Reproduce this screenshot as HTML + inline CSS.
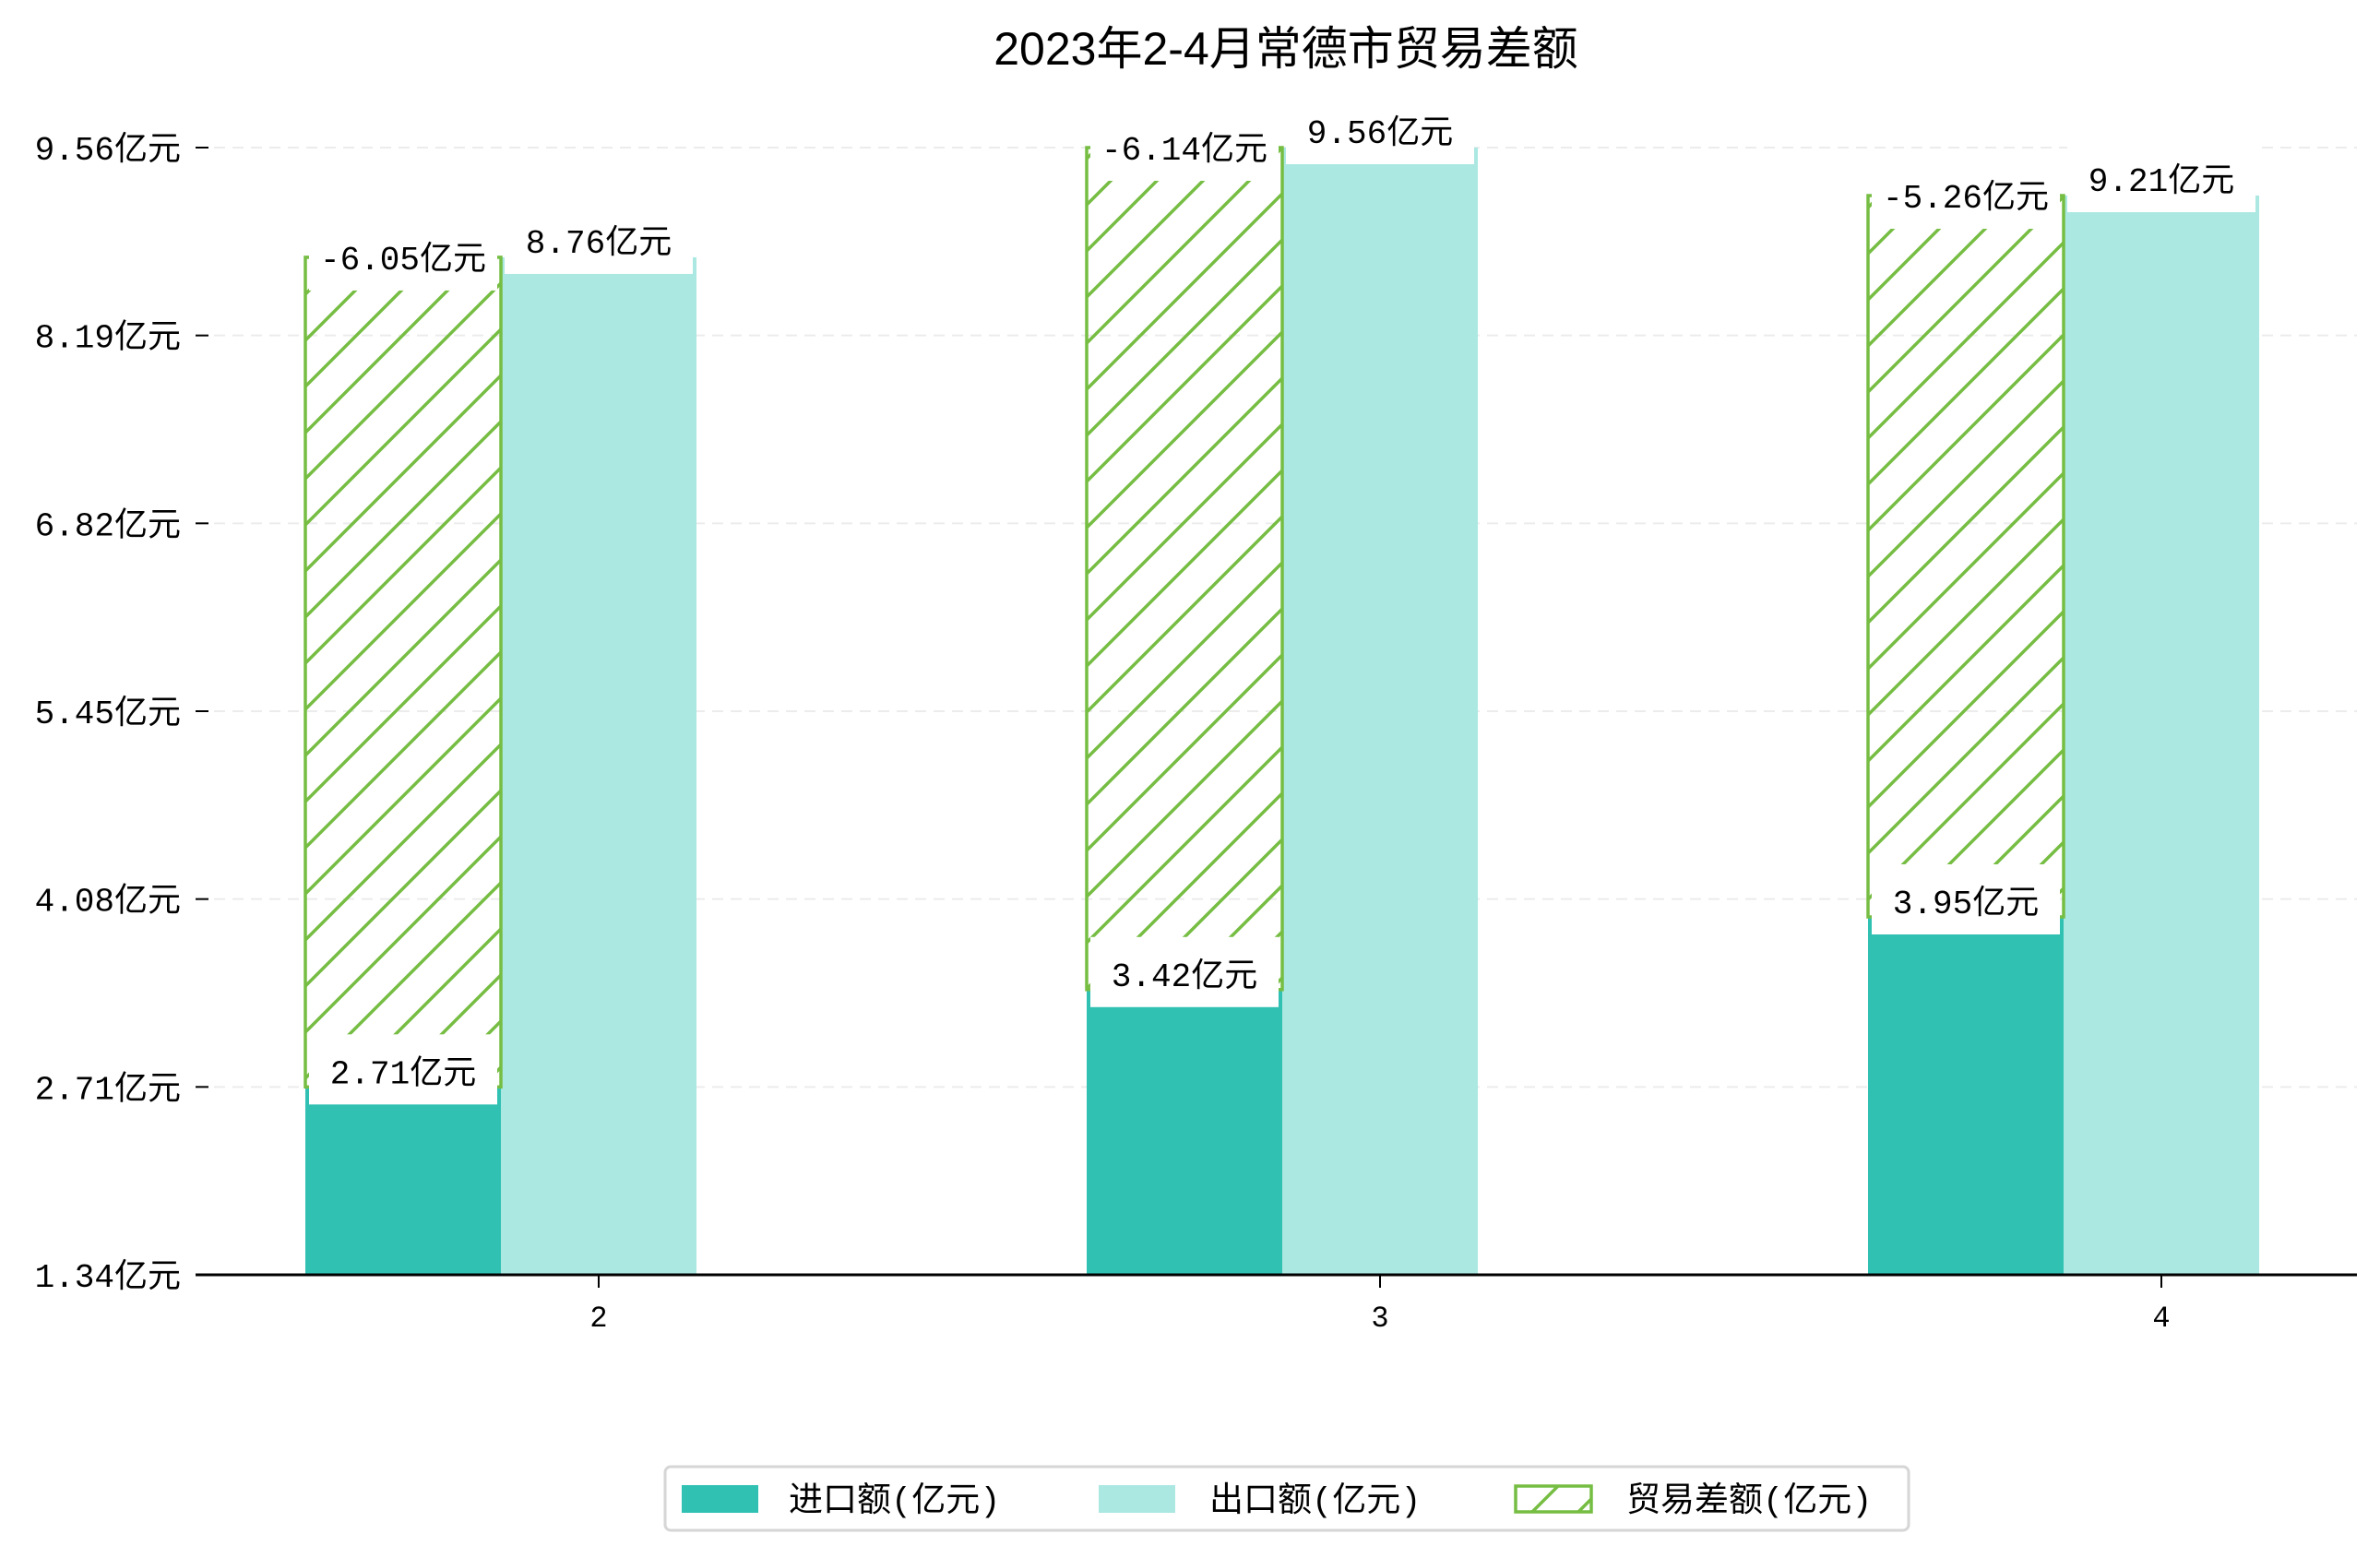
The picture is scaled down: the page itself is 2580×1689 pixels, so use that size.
<!DOCTYPE html>
<html><head><meta charset="utf-8"><style>
html,body{margin:0;padding:0;background:#fff;}
svg{display:block;font-family:"Liberation Mono","Noto Sans CJK SC",monospace;}
.t{font-family:"Liberation Sans","Noto Sans CJK SC",sans-serif;}
</style></head><body>
<svg id="chart" width="2580" height="1689" viewBox="0 0 2580 1689" xmlns="http://www.w3.org/2000/svg">
<defs>
<pattern id="hatch" patternUnits="userSpaceOnUse" width="50" height="50">
<path d="M-10,60 L60,-10 M-35,35 L35,-35 M15,85 L85,15" stroke="#76bd43" stroke-width="3.5"/>
</pattern>
</defs>
<text class="t" x="1394" y="70" text-anchor="middle" font-size="50" fill="#000">2023年2-4月常德市贸易差额</text>
<g id="grid"></g>
<g id="bars"></g>
<g id="axes"></g>
<g id="labels"></g>
<g>
<rect x="721" y="1590" width="1348" height="69" rx="6" fill="#fff" stroke="#d6d6d6" stroke-width="3"/>
<rect x="739" y="1610" width="83" height="30" fill="#31c1b3"/>
<text x="855" y="1638" font-size="37">进口额(亿元)</text>
<rect x="1191" y="1610" width="83" height="30" fill="#abe8e2"/>
<text x="1311" y="1638" font-size="37">出口额(亿元)</text>
<rect x="1643" y="1611" width="82" height="28" fill="url(#hatch)" stroke="#76bd43" stroke-width="3.5"/>
<text x="1763" y="1638" font-size="37">贸易差额(亿元)</text>
</g>
</svg>
<script>
const categories = ["2","3","4"];
const importVals = [2.71, 3.42, 3.95];
const exportVals = [8.76, 9.56, 9.21];
const balanceVals = [-6.05, -6.14, -5.26];
const yTicks = [1.34, 2.71, 4.08, 5.45, 6.82, 8.19, 9.56];

const NS = "http://www.w3.org/2000/svg";
const yMin = 1.34, yMax = 9.56, yBottom = 1382, yTop = 160;
const y = v => yBottom - (v - yMin) / (yMax - yMin) * (yBottom - yTop);
const x = i => 649 + i * 847;
const bw = 212;
function mk(tag, attrs, parent){const e=document.createElementNS(NS,tag);for(const k in attrs)e.setAttribute(k,attrs[k]);parent.appendChild(e);return e;}
const grid=document.getElementById('grid'), bars=document.getElementById('bars'), axes=document.getElementById('axes'), labels=document.getElementById('labels');

yTicks.forEach((t,i)=>{
  if(i>0){const g=mk('line',{x1:212,x2:2555,y1:y(t),y2:y(t),stroke:'#ececec','stroke-width':2,'stroke-dasharray':'12,8'},grid);
  
  }
  const tk=mk('line',{x1:212,x2:226,y1:y(t),y2:y(t),stroke:'#000','stroke-width':2},axes);
  
  
  const tl=mk('text',{x:196,y:y(t)+13,'text-anchor':'end','font-size':36},axes);
  tl.textContent=t.toFixed(2)+'亿元';
  
  
});
const ax=mk('line',{x1:212,x2:2555,y1:yBottom,y2:yBottom,stroke:'#000','stroke-width':3},axes);



function label(txt,cx,cy){
  const w=bw-8;
  const r=mk('rect',{x:cx-w/2,y:cy-40,width:w,height:76,fill:'#fff'},labels);
  
  
  const t=mk('text',{x:cx,y:cy+13,'text-anchor':'middle','font-size':36},labels);
  t.textContent=txt;
  
  
}

categories.forEach((c,i)=>{
  const cx=x(i);
  const ix=cx-1.5*bw, ex=cx-0.5*bw;
  const b1=mk('rect',{x:ix,y:y(importVals[i]),width:bw,height:yBottom-y(importVals[i]),fill:'#31c1b3'},bars);
  
  
  const b2=mk('rect',{x:ex,y:y(exportVals[i]),width:bw,height:yBottom-y(exportVals[i]),fill:'#abe8e2'},bars);
  
  
  const top=importVals[i]-balanceVals[i];
  const b3=mk('rect',{x:ix,y:y(top),width:bw,height:y(importVals[i])-y(top),fill:'url(#hatch)',stroke:'#76bd43','stroke-width':3.5},bars);
  
  
  const xt=mk('line',{x1:cx,x2:cx,y1:yBottom,y2:yBottom+14,stroke:'#000','stroke-width':2},axes);
  
  
  const xl=mk('text',{x:cx,y:yBottom+56,'text-anchor':'middle','font-size':32},axes);
  xl.textContent=c;
  
  
  label(importVals[i].toFixed(2)+'亿元',ix+bw/2,y(importVals[i])-17);
  label(exportVals[i].toFixed(2)+'亿元',ex+bw/2,y(exportVals[i])-18);
  label(balanceVals[i].toFixed(2)+'亿元',ix+bw/2,y(top));
});
</script>
</body></html>
